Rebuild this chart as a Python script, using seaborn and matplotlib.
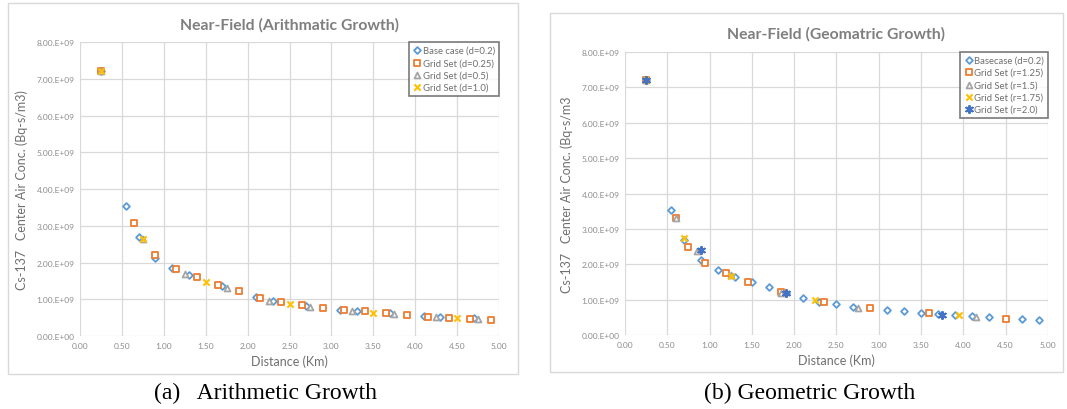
"""Near-field Cs-137 center air concentration vs distance, arithmetic vs geometric grid growth."""

import matplotlib
matplotlib.use("Agg")
import matplotlib.pyplot as plt
from matplotlib.patches import Rectangle
from matplotlib.ticker import FuncFormatter, MultipleLocator
import seaborn as sns

# ---- (a) arithmetic growth ----
arith_base_x = [0.25, 0.55, 0.70, 0.90, 1.10, 1.30, 1.70, 2.10, 2.30, 2.70, 3.10, 3.30, 3.70, 4.10, 4.30, 4.70]
arith_base_y = [7.2, 3.55, 2.70, 2.13, 1.86, 1.65, 1.37, 1.05, 0.95, 0.82, 0.72, 0.68, 0.62, 0.55, 0.52, 0.48]

arith_d025_x = [0.25, 0.65, 0.90, 1.15, 1.40, 1.65, 1.90, 2.15, 2.40, 2.65, 2.90, 3.15, 3.40, 3.65, 3.90, 4.15, 4.40, 4.65, 4.90]
arith_d025_y = [7.2, 3.08, 2.20, 1.83, 1.60, 1.40, 1.23, 1.04, 0.92, 0.84, 0.77, 0.71, 0.67, 0.62, 0.58, 0.53, 0.50, 0.47, 0.44]

arith_d05_x = [0.25, 0.75, 1.25, 1.75, 2.25, 2.75, 3.25, 3.75, 4.25, 4.75]
arith_d05_y = [7.2, 2.65, 1.70, 1.30, 0.96, 0.80, 0.68, 0.60, 0.52, 0.46]

arith_d10_x = [0.25, 0.75, 1.50, 2.50, 3.50, 4.50]
arith_d10_y = [7.2, 2.65, 1.48, 0.87, 0.64, 0.49]

# ---- (b) geometric growth ----
geo_base_x = [0.25, 0.55, 0.70, 0.90, 1.10, 1.30, 1.50, 1.70, 1.90, 2.10, 2.30, 2.50, 2.70, 3.10, 3.30, 3.50,
              3.70, 3.90, 4.10, 4.30, 4.70, 4.90]
geo_base_y = [7.2, 3.53, 2.68, 2.13, 1.85, 1.65, 1.49, 1.35, 1.20, 1.05, 0.95, 0.87, 0.80, 0.72, 0.67, 0.63,
              0.60, 0.57, 0.53, 0.50, 0.46, 0.43]

geo_r125_x = [0.25, 0.60, 0.75, 0.95, 1.20, 1.45, 1.85, 2.35, 2.90, 3.60, 4.50]
geo_r125_y = [7.2, 3.30, 2.50, 2.05, 1.77, 1.51, 1.23, 0.94, 0.77, 0.62, 0.47]

geo_r15_x = [0.25, 0.60, 0.85, 1.25, 1.85, 2.75, 4.15]
geo_r15_y = [7.2, 3.30, 2.37, 1.70, 1.20, 0.78, 0.52]

geo_r175_x = [0.25, 0.70, 1.25, 2.25, 3.95]
geo_r175_y = [7.2, 2.74, 1.68, 1.00, 0.56]

geo_r20_x = [0.25, 0.90, 1.90, 3.75]
geo_r20_y = [7.2, 2.40, 1.18, 0.58]

BLUE, ORANGE, GRAY, YELLOW, NAVY = "#5B9BD5", "#ED7D31", "#A5A5A5", "#FFC000", "#4472C4"
TXT = "#7f7f7f"

sns.set_style("white")
plt.rcParams["font.family"] = ["Lato", "DejaVu Sans"]

fig = plt.figure(figsize=(10.67, 4.10), dpi=100)
ax1 = fig.add_axes([0.075, 0.178, 0.3927, 0.717])
ax2 = fig.add_axes([0.5857, 0.180, 0.3963, 0.691])

# panel frames
fig.patches.append(Rectangle((8 / 1067, 1 - 375 / 410), 510 / 1067, 371 / 410, transform=fig.transFigure,
                             fill=False, edgecolor="#d9d9d9", lw=1))
fig.patches.append(Rectangle((550 / 1067, 1 - 373 / 410), 513 / 1067, 359 / 410, transform=fig.transFigure,
                             fill=False, edgecolor="#d9d9d9", lw=1))


def draw(ax, xs, ys, label, color, marker, size, hollow=True):
    y = [v * 1e9 for v in ys]
    if hollow:
        sns.scatterplot(x=xs, y=y, ax=ax, marker=marker, s=size, color=color, facecolor="white",
                        edgecolor=color, linewidth=1.3, label=label, zorder=3)
    else:
        sns.scatterplot(x=xs, y=y, ax=ax, marker=marker, s=size, color=color, linewidth=1.5,
                        label=label, zorder=4)


def sci(v, _):
    if v == 0:
        return "0.00.E+00"
    return f"{v / 1e9:.2f}.E+09"


def style(ax, title, ylabel):
    ax.set_xlim(0, 5)
    ax.set_ylim(0, 8e9)
    ax.xaxis.set_major_locator(MultipleLocator(0.5))
    ax.yaxis.set_major_locator(MultipleLocator(1e9))
    ax.xaxis.set_major_formatter(FuncFormatter(lambda v, _: f"{v:.2f}"))
    ax.yaxis.set_major_formatter(FuncFormatter(sci))
    ax.grid(True, color="#d9d9d9", lw=0.9)
    ax.set_axisbelow(True)
    for s in ax.spines.values():
        s.set_visible(False)
    ax.tick_params(length=0, labelsize=6, labelcolor="#8c8c8c", pad=4)
    ax.set_xlabel("Distance (Km)", fontsize=9, color="#6f6f6f", labelpad=4)
    ax.set_ylabel(ylabel, fontsize=9, color="#6f6f6f", labelpad=6)
    ax.set_title(title, fontsize=11.3, fontweight="bold", color=TXT, pad=10)
    leg = ax.legend(loc="upper right", fontsize=6.8, frameon=True, fancybox=False, borderpad=0.4,
                    handletextpad=0.1, handlelength=1.0, labelspacing=0.35, borderaxespad=0)
    leg.get_frame().set_edgecolor("#595959")
    leg.get_frame().set_linewidth(1.2)
    for t in leg.get_texts():
        t.set_color("#6f6f6f")


draw(ax1, arith_base_x, arith_base_y, "Base case (d=0.2)", BLUE, "D", 12)
draw(ax1, arith_d025_x, arith_d025_y, "Grid Set (d=0.25)", ORANGE, "s", 24)
draw(ax1, arith_d05_x, arith_d05_y, "Grid Set (d=0.5)", GRAY, "^", 18)
draw(ax1, arith_d10_x, arith_d10_y, "Grid Set (d=1.0)", YELLOW, "x", 20, hollow=False)
style(ax1, "Near-Field (Arithmatic Growth)", "Cs-137   Center Air Conc. (Bq-s/m3)")

draw(ax2, geo_base_x, geo_base_y, "Basecase (d=0.2)", BLUE, "D", 12)
draw(ax2, geo_r125_x, geo_r125_y, "Grid Set (r=1.25)", ORANGE, "s", 24)
draw(ax2, geo_r15_x, geo_r15_y, "Grid Set (r=1.5)", GRAY, "^", 18)
draw(ax2, geo_r175_x, geo_r175_y, "Grid Set (r=1.75)", YELLOW, "x", 20, hollow=False)
draw(ax2, geo_r20_x, geo_r20_y, "Grid Set (r=2.0)", NAVY, (6, 2, 0), 26, hollow=False)
style(ax2, "Near-Field (Geomatric Growth)", "Cs-137   Center Air Conc. (Bq-s/m3")

fig.text(265 / 1067, 1 - 393 / 410, "(a)   Arithmetic Growth", ha="center", va="center",
         fontsize=17, family="Liberation Serif", color="black")
fig.text(810 / 1067, 1 - 393 / 410, "(b) Geometric Growth", ha="center", va="center",
         fontsize=17, family="Liberation Serif", color="black")

fig.savefig("out.png", dpi=100)
